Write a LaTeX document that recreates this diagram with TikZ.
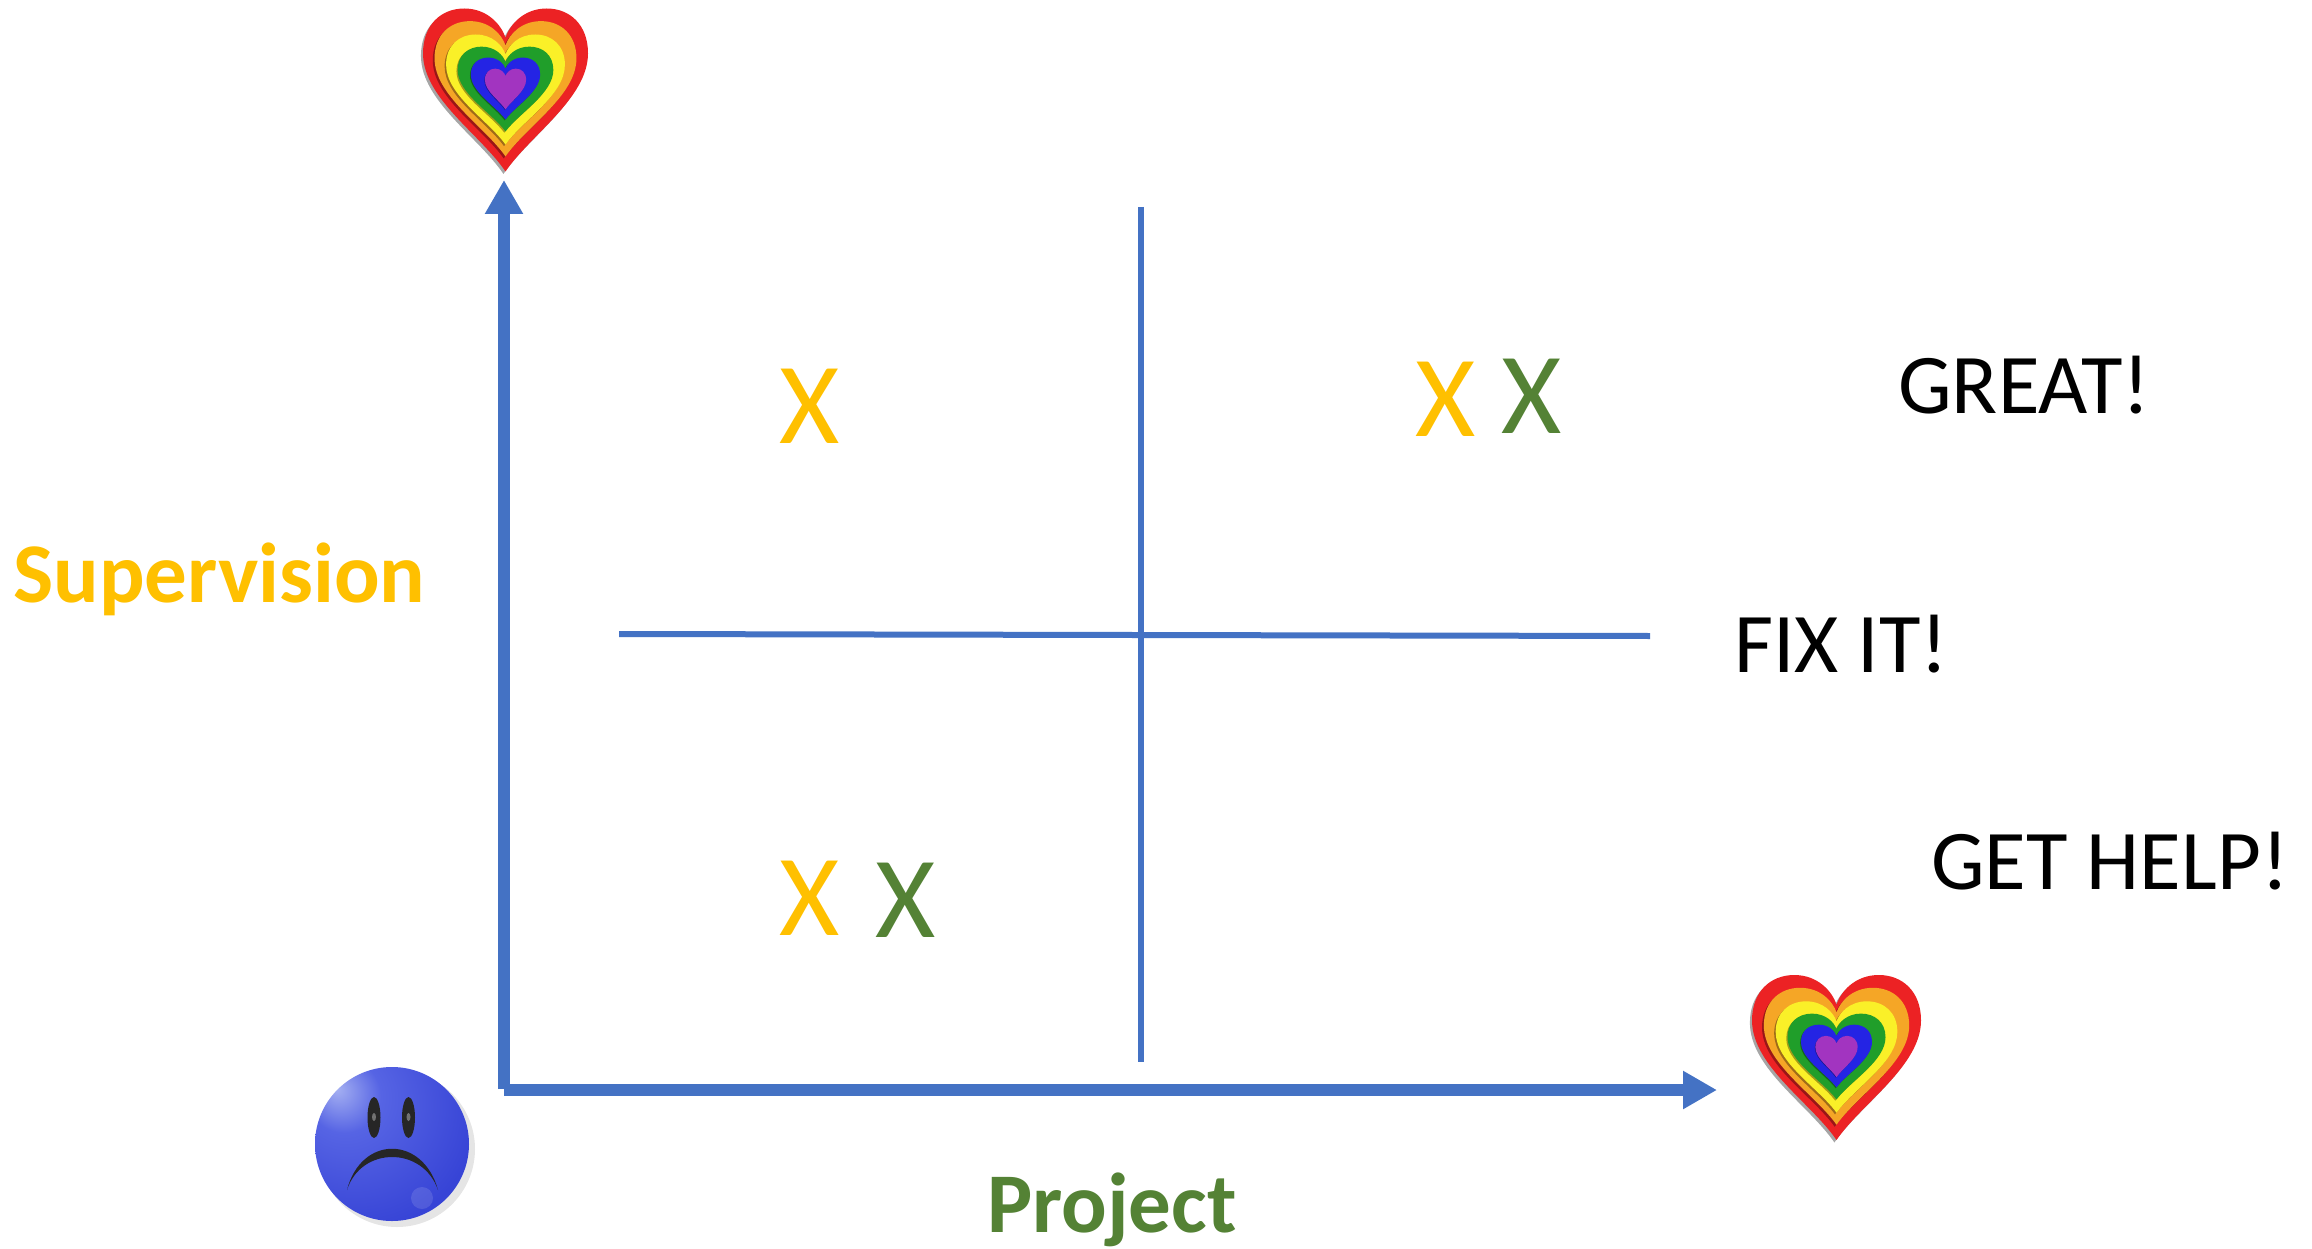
\documentclass[tikz,border=0pt]{standalone}
\usepackage{fontspec}
\setmainfont{Carlito}
\usetikzlibrary{arrows.meta}
\definecolor{axisblue}{HTML}{4472C4}
\definecolor{supor}{HTML}{FFC000}
\definecolor{projgreen}{HTML}{548235}
\definecolor{hred}{RGB}{236,34,36}
\definecolor{horange}{RGB}{245,166,38}
\definecolor{hyellow}{RGB}{250,240,40}
\definecolor{hgreen}{RGB}{32,158,42}
\definecolor{hblue}{RGB}{36,36,228}
\definecolor{hpurple}{RGB}{162,52,192}
\definecolor{faceA}{RGB}{165,176,242}
\definecolor{faceB}{RGB}{86,100,228}
\definecolor{faceC}{RGB}{55,68,214}
\definecolor{faceD}{RGB}{38,46,178}
\pgfdeclareradialshading{sadball}{\pgfpoint{-18bp}{18bp}}{color(0bp)=(faceA); color(12bp)=(faceB); color(38bp)=(faceC); color(62bp)=(faceC); color(76bp)=(faceD); color(90bp)=(faceD)}
\newcommand\heartfill[1]{\fill[#1] (0,-1) .. controls (-0.3,-0.55) and (-1,-0.1) .. (-1,0.45)
  .. controls (-1,0.8) and (-0.78,1) .. (-0.5,1)
  .. controls (-0.22,1) and (-0.05,0.8) .. (0,0.64)
  .. controls (0.05,0.8) and (0.22,1) .. (0.5,1)
  .. controls (0.78,1) and (1,0.8) .. (1,0.45)
  .. controls (1,-0.1) and (0.3,-0.55) .. (0,-1) -- cycle;}
\tikzset{
  axisline/.style={draw=axisblue, line width=12pt, line cap=butt},
  axisarrow/.style={axisline, -{Triangle[length=34pt,width=36pt]}},
  divider/.style={draw=axisblue, line width=6pt},
  bigtext/.style={inner sep=0pt, font=\fontsize{85}{100}\selectfont},
  axislabel/.style={bigtext, font=\fontsize{85}{100}\selectfont\bfseries},
  mark x/.style={inner sep=0pt, font=\fontsize{116}{130}\selectfont},
  pics/rainbowheart/.style={code={
    \foreach \col/\sx/\sy/\dy in {hred/1/1/0, horange/0.86/0.83/0.015, hyellow/0.72/0.675/0.006, hgreen/0.58/0.52/0.012, hblue/0.42/0.38/0.018, hpurple/0.25/0.25/0.012}{
      \begin{scope}[shift={(0,\dy)}, xscale=\sx, yscale=\sy]
        \begin{scope}[shift={(-0.025,-0.03)}]
          \heartfill{black, opacity=0.35}
        \end{scope}
        \heartfill{\col}
      \end{scope}
    }
  }}
}
\begin{document}
\begin{tikzpicture}[x=1pt, y=-1pt]
\useasboundingbox (0,0) rectangle (2312,1249);
\fill[white] (0,0) rectangle (2312,1249);

% hearts
\pic[xscale=82.5, yscale=-81.5] (hearttop) at (505.5,90) {rainbowheart};
\pic[xscale=84.5, yscale=-82.5] (heartright) at (1836.5,1057.5) {rainbowheart};

% axes
\coordinate (ocorner) at (504,1089);
\coordinate (ostart) at (504,1090);
\coordinate (ytip) at (504,180);
\coordinate (xtip) at (1717,1090);
\draw[axisarrow] (ocorner) -- (ytip);
\draw[axisarrow] (ostart) -- (xtip);

% dividers
\coordinate (vtop) at (1141,207);
\coordinate (vbot) at (1141,1062);
\coordinate (hleft) at (619,634);
\coordinate (hright) at (1650,636);
\draw[divider] (vtop) -- (vbot);
\draw[divider] (hleft) -- (hright);

% labels
\node[axislabel, text=supor, anchor=base west] (sup) at (13,602) {Supervision};
\node[axislabel, text=projgreen, anchor=base] (proj) at (1112,1232) {Project};
\node[bigtext, anchor=base west] (great) at (1898,413) {GREAT!};
\node[bigtext, anchor=base west] (fixit) at (1734,672) {FIX IT!};
\node[bigtext, anchor=base west] (gethelp) at (1931,889) {GET HELP!};

% marks
\node[mark x, text=supor, anchor=base] (x1) at (810,443) {X};
\node[mark x, text=supor, anchor=base] (x2) at (1446,436) {X};
\node[mark x, text=projgreen, anchor=base] (x3) at (1532,433) {X};
\node[mark x, text=supor, anchor=base] (x4) at (810,935) {X};
\node[mark x, text=projgreen, anchor=base] (x5) at (906,937) {X};

% sad face
\fill[black, opacity=0.10] (397,1149) circle[radius=78pt];
\node[circle, minimum size=154pt, inner sep=0pt, shading=sadball] (face) at (392,1144) {};
\fill[white, opacity=0.12] (422,1198) circle[radius=11pt];
\fill[black!85] (374,1117.5) ellipse[x radius=6.5pt, y radius=20.5pt];
\fill[black!85] (408.5,1117.5) ellipse[x radius=6.5pt, y radius=20.5pt];
\fill[white, opacity=0.35] (374,1117) ellipse[x radius=2pt, y radius=4pt];
\fill[white, opacity=0.35] (408.5,1117) ellipse[x radius=2pt, y radius=4pt];
\fill[black!85] (347,1190) .. controls (361,1135) and (423,1135) .. (438,1190)
  .. controls (423,1146) and (361,1146) .. cycle;
\end{tikzpicture}
\end{document}
